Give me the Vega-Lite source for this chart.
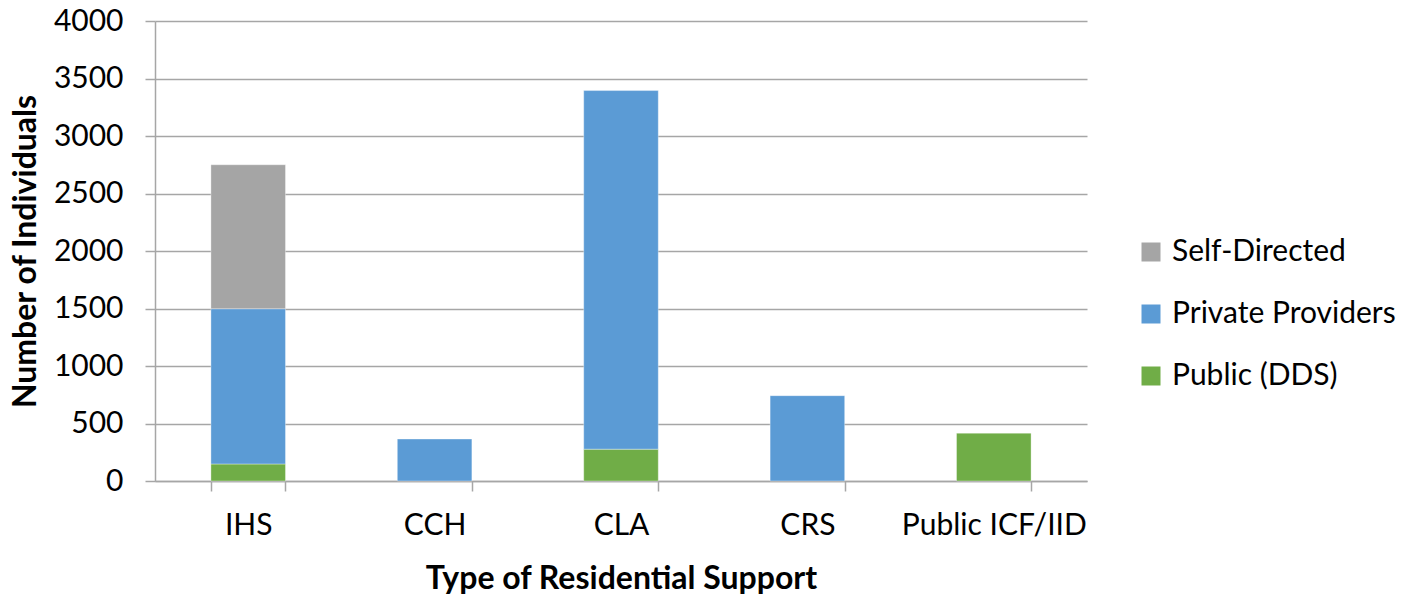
{
  "$schema": "https://vega.github.io/schema/vega-lite/v6.json",
  "autosize": {"type": "none"},
  "padding": {"left": 155, "top": 21, "right": 323, "bottom": 113},
  "width": 932,
  "height": 460,
  "background": "white",
  "config": {
    "view": {"stroke": null},
    "font": "Lato",
    "axis": {"labelFont": "Lato", "titleFont": "Lato", "labelColor": "#000", "titleColor": "#000"}
  },
  "data": {
    "values": [
      {"type": "IHS", "series": "Public (DDS)", "count": 148},
      {"type": "IHS", "series": "Private Providers", "count": 1350},
      {"type": "IHS", "series": "Self-Directed", "count": 1252},
      {"type": "CCH", "series": "Private Providers", "count": 365},
      {"type": "CLA", "series": "Public (DDS)", "count": 277},
      {"type": "CLA", "series": "Private Providers", "count": 3118},
      {"type": "CRS", "series": "Private Providers", "count": 742},
      {"type": "Public ICF/IID", "series": "Public (DDS)", "count": 416}
    ]
  },
  "transform": [
    {"calculate": "indexof(['Public (DDS)','Private Providers','Self-Directed'], datum.series)", "as": "stackIdx"}
  ],
  "mark": {"type": "bar", "stroke": "white", "strokeOpacity": 0.35, "strokeWidth": 1},
  "encoding": {
    "x": {
      "field": "type",
      "type": "nominal",
      "sort": ["IHS", "CCH", "CLA", "CRS", "Public ICF/IID"],
      "scale": {"paddingInner": 0.6, "paddingOuter": 0.3},
      "axis": {
        "title": "Type of Residential Support",
        "titleFontSize": 32,
        "titleFontWeight": "bold",
        "titleY": 97,
        "titleBaseline": "middle",
        "labelAngle": 0,
        "labelFontSize": 30,
        "labelBaseline": "middle",
        "labelPadding": 34,
        "labelLimit": 400,
        "tickBand": "extent",
        "tickSize": 10,
        "tickColor": "#a6a6a6",
        "tickWidth": 1.5,
        "domainColor": "#a6a6a6",
        "domainWidth": 1.5,
        "grid": false
      }
    },
    "y": {
      "field": "count",
      "type": "quantitative",
      "aggregate": "sum",
      "stack": "zero",
      "scale": {"domain": [0, 4000], "nice": false},
      "axis": {
        "title": "Number of Individuals",
        "titleFontSize": 32,
        "titleFontWeight": "bold",
        "titleX": -130,
        "titleY": 230,
        "titleAngle": -90,
        "titleAlign": "center",
        "titleBaseline": "middle",
        "values": [0, 500, 1000, 1500, 2000, 2500, 3000, 3500, 4000],
        "format": "d",
        "labelFontSize": 30,
        "labelPadding": 22,
        "tickSize": 10,
        "tickColor": "#a6a6a6",
        "tickWidth": 1.5,
        "domainColor": "#a6a6a6",
        "domainWidth": 1.5,
        "gridColor": "#a6a6a6",
        "gridWidth": 1.5
      }
    },
    "color": {
      "field": "series",
      "type": "nominal",
      "scale": {
        "domain": ["Self-Directed", "Private Providers", "Public (DDS)"],
        "range": ["#A5A5A5", "#5B9BD5", "#70AD47"]
      },
      "legend": {
        "title": null,
        "orient": "none",
        "legendX": 981,
        "legendY": 216,
        "symbolType": "square",
        "symbolSize": 361,
        "symbolStrokeWidth": 0,
        "labelFontSize": 30,
        "labelFont": "Lato",
        "labelColor": "#000",
        "labelOffset": 6,
        "labelLimit": 400,
        "rowPadding": 32
      }
    },
    "order": {"field": "stackIdx", "type": "quantitative"}
  }
}
